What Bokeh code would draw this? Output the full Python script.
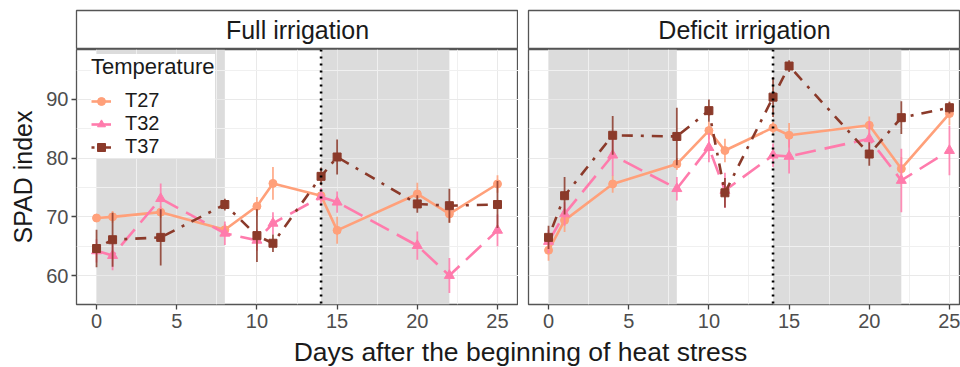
from bokeh.plotting import figure
from bokeh.layouts import column, row
from bokeh.models import Range1d, FixedTicker, Span, Legend, LegendItem
from bokeh.embed import file_html
from bokeh.resources import INLINE
from bokeh.core.properties import value

# ---------------- data ----------------
days = [0, 1, 4, 8, 10, 11, 14, 15, 20, 22, 25]

full_t27 = [69.8, 70.0, 70.8, 67.8, 71.8, 75.7, 73.6, 67.7, 73.9, 70.5, 75.6]
full_t27_err = [0.6, 1.0, 1.0, 1.0, 1.6, 2.8, 1.0, 2.3, 1.9, 1.5, 1.5]
full_t32 = [64.2, 63.4, 73.1, 67.2, 66.0, 68.9, 73.4, 72.5, 65.1, 60.0, 67.7]
full_t32_err = [2.0, 2.5, 2.6, 2.0, 1.8, 1.9, 1.5, 1.8, 2.4, 3.0, 2.7]
full_t37 = [64.6, 66.1, 66.5, 72.1, 66.8, 65.5, 76.9, 80.2, 72.2, 71.9, 72.1]
full_t37_err = [3.2, 4.6, 4.8, 1.0, 4.5, 1.5, 1.5, 3.0, 1.5, 2.9, 4.0]

def_t27 = [64.3, 69.4, 75.6, 79.0, 84.7, 81.3, 85.2, 83.9, 85.6, 78.2, 87.6]
def_t27_err = [1.8, 2.0, 1.5, 1.0, 1.5, 2.0, 1.0, 2.1, 1.5, 2.0, 2.0]
def_t32 = [65.8, 70.5, 80.5, 74.8, 81.8, 74.5, 80.5, 80.3, 83.3, 76.2, 81.3]
def_t32_err = [2.0, 2.0, 3.5, 2.0, 2.5, 3.0, 2.0, 2.9, 3.0, 5.4, 4.2]
def_t37 = [66.5, 73.6, 83.9, 83.7, 88.1, 74.1, 90.4, 95.7, 80.7, 86.9, 88.6]
def_t37_err = [2.0, 3.2, 3.3, 4.9, 1.9, 2.5, 3.4, 1.0, 2.0, 2.8, 1.0]

series_names = ["T27", "T32", "T37"]
panel_titles = ["Full irrigation", "Deficit irrigation"]

shade_start = [0, 14]
shade_end = [8, 22]
stress_day = 14

x_ticks = [0, 5, 10, 15, 20, 25]
x_minor = [2.5, 7.5, 12.5, 17.5, 22.5]
y_ticks = [60, 70, 80, 90]
y_minor = [65, 75, 85, 95]

x_label = "Days after the beginning of heat stress"
y_label = "SPAD index"
legend_title = "Temperature"

# ---------------- style ----------------
FONT = "Liberation Sans"
colors = ["#FFA07A", "#FF7BAC", "#8B3A2A"]
dashes = ["solid", "21 9", "3 8 11 8"]
markers = ["circle", "triangle", "square"]
msizes = [8, 10, 8]

X0 = -1.25
X1_FULL = 26.31
X1_DEF = 25.69
Y0, Y1 = 55.06, 98.52

W1, W2 = 518, 442
L1, L2 = 76, 10


def make_strip(label, w, left):
    s = figure(width=w, height=49, x_range=Range1d(0, 1), y_range=Range1d(0, 1),
               x_axis_type=None, y_axis_type=None, toolbar_location=None,
               output_backend="svg", min_border_left=left, min_border_right=0,
               min_border_top=10, min_border_bottom=0)
    s.outline_line_color = "#555555"
    s.outline_line_width = 1.3
    s.background_fill_color = "white"
    s.border_fill_color = "white"
    s.text(x=[0.5], y=[0.5], text=[label], text_align="center",
           text_baseline="middle", text_font=value(FONT),
           text_font_size="25px", text_color="#1a1a1a")
    return s


def make_panel(w, left, x_end, show_y):
    p = figure(width=w, height=286, x_range=Range1d(X0, x_end),
               y_range=Range1d(Y0, Y1), toolbar_location=None,
               output_backend="svg", min_border_left=left, min_border_right=0,
               min_border_top=0, min_border_bottom=31)
    p.background_fill_color = "white"
    p.border_fill_color = "white"
    p.outline_line_color = "#555555"
    p.outline_line_width = 1.3

    xt = FixedTicker(ticks=x_ticks, minor_ticks=x_minor)
    yt = FixedTicker(ticks=y_ticks, minor_ticks=y_minor)
    p.xaxis.ticker = xt
    p.yaxis.ticker = yt
    p.xgrid.ticker = xt
    p.ygrid.ticker = yt
    for g in (p.xgrid, p.ygrid):
        g.grid_line_color = "#e9e9e9"
        g.grid_line_width = 1
        g.minor_grid_line_color = "#f0f0f0"
        g.minor_grid_line_width = 1

    for ax in (p.xaxis, p.yaxis):
        ax.axis_line_color = None
        ax.major_tick_line_color = "#444444"
        ax.major_tick_line_width = 1.3
        ax.major_tick_in = 0
        ax.major_tick_out = 5
        ax.minor_tick_line_color = None
        ax.major_label_text_font = FONT
        ax.major_label_text_font_size = "20px"
        ax.major_label_text_color = "#4d4d4d"
    p.xaxis.major_label_standoff = 4
    p.yaxis.major_label_standoff = 3

    if show_y:
        p.yaxis.axis_label = y_label
        p.yaxis.axis_label_text_font = FONT
        p.yaxis.axis_label_text_font_size = "25px"
        p.yaxis.axis_label_text_font_style = "normal"
        p.yaxis.axis_label_text_color = "#1a1a1a"
        p.yaxis.axis_label_standoff = 6
    else:
        p.yaxis.visible = False

    # heat-stress shading
    p.quad(left=shade_start, right=shade_end, bottom=Y0, top=Y1,
           fill_color="#dcdcdc", line_color=None, level="image")
    return p


def add_series(p, vals, errs, i):
    lo = [v - e for v, e in zip(vals, errs)]
    hi = [v + e for v, e in zip(vals, errs)]
    p.segment(x0=days, y0=lo, x1=days, y1=hi, line_color=colors[i],
              line_width=1.8, line_alpha=0.85)
    lr = p.line(days, vals, line_color=colors[i], line_width=2.6,
                line_dash=dashes[i])
    sr = p.scatter(days, vals, marker=markers[i], size=msizes[i],
                   fill_color=colors[i], line_color=colors[i])
    return lr, sr


s1 = make_strip(panel_titles[0], W1, L1)
s2 = make_strip(panel_titles[1], W2, L2)
p1 = make_panel(W1, L1, X1_FULL, True)
p2 = make_panel(W2, L2, X1_DEF, False)

full = [(full_t27, full_t27_err), (full_t32, full_t32_err), (full_t37, full_t37_err)]
deficit = [(def_t27, def_t27_err), (def_t32, def_t32_err), (def_t37, def_t37_err)]

items = []
for i, (v, e) in enumerate(full):
    lr, sr = add_series(p1, v, e, i)
    items.append(LegendItem(label=series_names[i], renderers=[lr, sr]))
for i, (v, e) in enumerate(deficit):
    add_series(p2, v, e, i)

for p in (p1, p2):
    p.add_layout(Span(location=stress_day, dimension="height", line_color="black",
                      line_width=2.6, line_dash="2 5"))

legend = Legend(items=items, title=legend_title, location=(15, 146))
legend.title_text_font = FONT
legend.title_text_font_size = "22px"
legend.title_text_font_style = "normal"
legend.title_text_color = "#1a1a1a"
legend.title_standoff = 9
legend.label_text_font = FONT
legend.label_text_font_size = "20px"
legend.label_text_color = "#1a1a1a"
legend.glyph_width = 20
legend.glyph_height = 20
legend.label_height = 20
legend.label_width = 90
legend.label_standoff = 14
legend.padding = 8
legend.margin = 0
legend.spacing = 0
legend.background_fill_color = "white"
legend.background_fill_alpha = 1
legend.border_line_color = None
p1.add_layout(legend)

p3 = figure(width=W1 + W2, height=32, x_range=Range1d(0, W1 + W2), y_range=Range1d(0, 1),
            x_axis_type=None, y_axis_type=None, toolbar_location=None,
            output_backend="svg", min_border_left=0, min_border_right=0,
            min_border_top=0, min_border_bottom=0)
p3.outline_line_color = None
p3.border_fill_color = "white"
p3.background_fill_color = "white"
p3.text(x=[520], y=[0.5], text=[x_label], text_align="center", text_baseline="middle",
        text_font=value(FONT), text_font_size="26.5px", text_color="#1a1a1a")

layout = column(row(s1, s2), row(p1, p2), p3)
open("out.html", "w").write(file_html(layout, INLINE))
